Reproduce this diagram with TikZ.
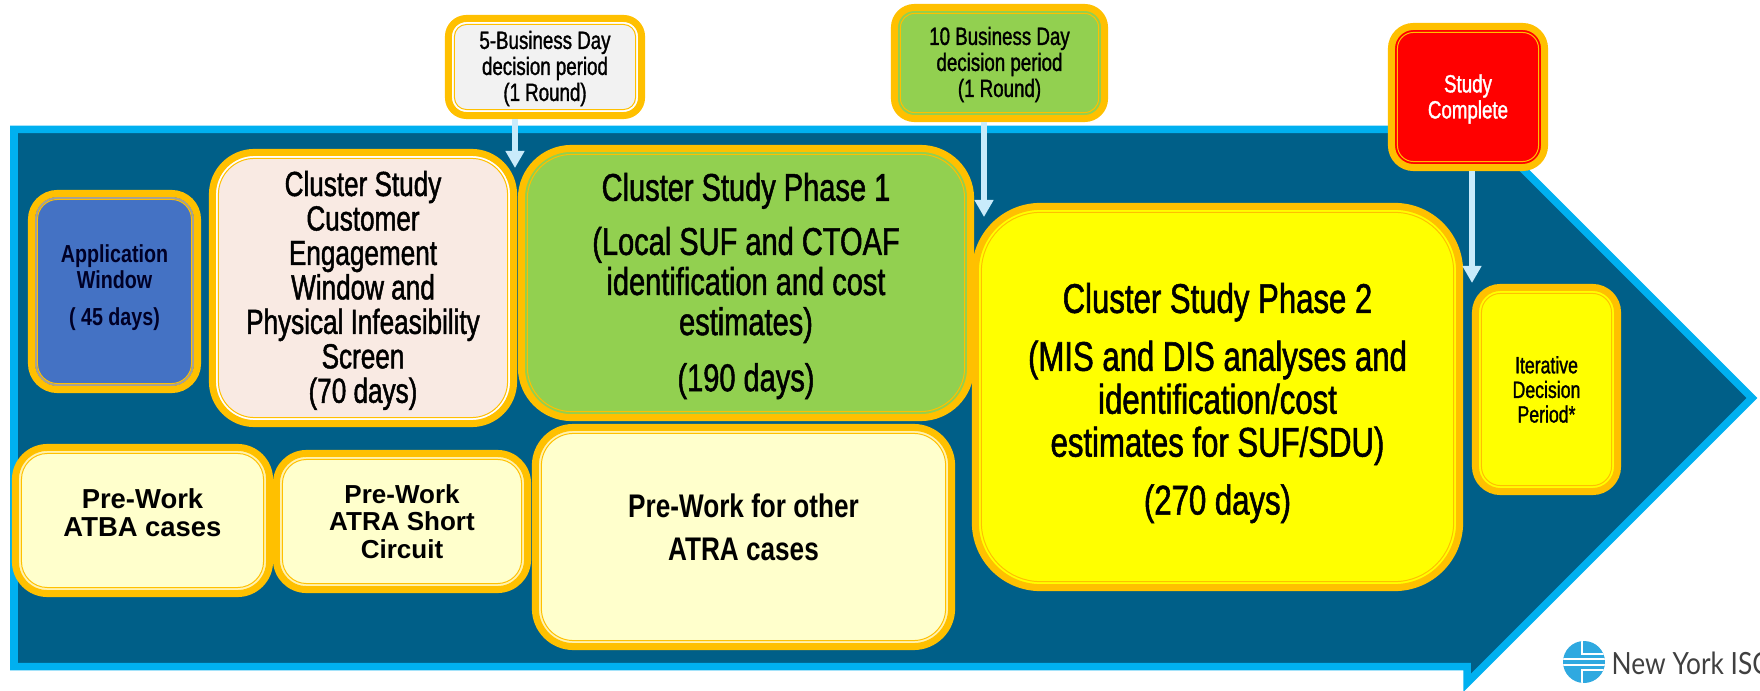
\documentclass[tikz,border=0pt]{standalone}
\usepackage{fontspec}
\setmainfont{Liberation Sans}
\newfontfamily\narrowface[FakeStretch=0.8]{Liberation Sans}
\newfontfamily\heavyface[FakeStretch=0.75,FakeBold=1.3]{Liberation Sans}
\newfontfamily\logoface[FakeStretch=0.86]{Lato}
\usetikzlibrary{arrows.meta}
\definecolor{bodyblue}{HTML}{005F88}
\definecolor{rimblue}{HTML}{00B0F0}
\definecolor{rimgold}{HTML}{FFC000}
\definecolor{tipblue}{HTML}{C9EBFB}
\definecolor{peachfill}{HTML}{F9EAE3}
\definecolor{greenfill}{HTML}{92D050}
\definecolor{creamfill}{HTML}{FFFFCC}
\definecolor{bluefill}{HTML}{4472C4}
\definecolor{greyfill}{HTML}{F2F2F2}
\definecolor{creamgap}{HTML}{FFF2B0}
\definecolor{bluegap}{HTML}{A0A0A0}
\definecolor{logoblue}{HTML}{2FA9E0}
\definecolor{yellowfill}{HTML}{FFFF00}
\definecolor{redfill}{HTML}{FF0000}
\tikzset{
    stagebox/.style n args={3}{draw=rimgold,line width=.07cm,fill=#1,rounded corners=#3,
        inner sep=0pt,align=center,text=black,
        path picture={
            \draw[#2,line width=.02cm,rounded corners=#3-.045cm]
                ([shift={(.045cm,.045cm)}]path picture bounding box.south west) rectangle
                ([shift={(-.045cm,-.045cm)}]path picture bounding box.north east);
            \draw[rimgold,line width=.01cm,rounded corners=#3-.06cm]
                ([shift={(.06cm,.06cm)}]path picture bounding box.south west) rectangle
                ([shift={(-.06cm,-.06cm)}]path picture bounding box.north east);
        }},
    flowarrow/.style={draw=tipblue,line width=.065cm,-{Triangle[length=.17cm,width=.18cm,fill=tipblue]}}
}
\begin{document}
\begin{tikzpicture}[x=.01cm,y=-.01cm]
    \clip (0,0) rectangle (1760,691);
    % big arrow behind everything
    \draw[draw=rimblue,fill=bodyblue,line width=.075cm,line join=miter]
        (14,129.5) -- (1467,129.5) -- (1467,113) -- (1752,398) -- (1467,683) -- (1467,666.5) -- (14,666.5) -- cycle;
    % top row
    \node[stagebox={bluefill}{bluegap}{.26cm},minimum width=1.66cm,minimum height=1.96cm,
        font=\narrowface\bfseries\fontsize{7}{7.4}\selectfont,text=black!85!blue] (appwindow) at (114.5,291.5)
        {Application\\Window\\[.11cm]( 45 days)\\[-.13cm]~};
    \node[stagebox={peachfill}{white}{.42cm},minimum width=3.01cm,minimum height=2.71cm,
        font=\heavyface\fontsize{9.9}{9.8}\selectfont] (screen) at (363,288)
        {\rule{0pt}{.3cm}Cluster Study\\Customer\\Engagement\\Window and\\Physical Infeasibility\\Screen\\(70 days)};
    \node[stagebox={greenfill}{greenfill}{.5cm},minimum width=4.49cm,minimum height=2.69cm,
        font=\heavyface\fontsize{11}{11.4}\selectfont] (phaseone) at (746,283)
        {\rule{0pt}{.34cm}Cluster Study Phase 1\\[.14cm](Local SUF and CTOAF\\identification and cost\\estimates)\\[.16cm](190 days)};
    \node[stagebox={yellowfill}{yellowfill}{.65cm},minimum width=4.84cm,minimum height=3.81cm,
        font=\heavyface\fontsize{11.8}{12.2}\selectfont] (phasetwo) at (1217.5,397)
        {\rule{0pt}{.42cm}Cluster Study Phase 2\\[.15cm](MIS and DIS analyses and\\identification/cost\\estimates for SUF/SDU)\\[.15cm](270 days)};
    \node[stagebox={yellowfill}{yellowfill}{.25cm},minimum width=1.42cm,minimum height=2.04cm,
        font=\heavyface\fontsize{6.7}{7}\selectfont] (iterative) at (1546.5,389.5)
        {Iterative\\Decision\\Period*};
    % bottom row
    \node[stagebox={creamfill}{creamgap}{.32cm},minimum width=2.54cm,minimum height=1.46cm,
        font=\bfseries\fontsize{7.8}{8.2}\selectfont] (atba) at (142.5,520.5)
        {Pre-Work\\ATBA cases\\[-.13cm]~};
    \node[stagebox={creamfill}{creamgap}{.3cm},minimum width=2.51cm,minimum height=1.36cm,
        font=\bfseries\fontsize{7.4}{7.8}\selectfont] (atrashort) at (402,521.5)
        {Pre-Work\\ATRA Short\\Circuit};
    \node[stagebox={creamfill}{creamgap}{.38cm},minimum width=4.16cm,minimum height=2.19cm,
        font=\narrowface\bfseries\fontsize{9.3}{12.2}\selectfont] (otheratra) at (743.5,537)
        {Pre-Work for other\\ATRA cases\\[-.23cm]~};
    % decision boxes above the arrow
    \node[stagebox={greyfill}{white}{.18cm},minimum width=1.93cm,minimum height=.97cm,
        font=\heavyface\fontsize{7.1}{7.4}\selectfont] (dayfive) at (545,67)
        {\rule{0pt}{.21cm}5-Business Day\\decision period\\(1 Round)};
    \node[stagebox={greenfill}{greenfill}{.2cm},minimum width=2.1cm,minimum height=1.11cm,
        font=\heavyface\fontsize{7.1}{7.4}\selectfont] (dayten) at (999.5,63)
        {\rule{0pt}{.21cm}10 Business Day\\decision period\\(1 Round)};
    \node[stagebox={redfill}{redfill}{.22cm},minimum width=1.53cm,minimum height=1.41cm,
        font=\heavyface\fontsize{7.1}{7.4}\selectfont,text=white] (studydone) at (1468,97)
        {\rule{0pt}{.22cm}Study\\Complete};
    % arrows down
    \coordinate (fivetip) at (515,168);
    \coordinate (tentip) at (984,217);
    \coordinate (donetip) at (1472,283);
    \draw[flowarrow] (dayfive.south -| fivetip) -- (fivetip);
    \draw[flowarrow] (dayten.south -| tentip) -- (tentip);
    \draw[flowarrow] (studydone.south -| donetip) -- (donetip);
    % logo
    \fill[logoblue] (1584,662) circle (21);
    \begin{scope}
        \clip (1584,662) circle (21);
        \draw[white,line width=.015cm] (1582,640) -- (1582,654) -- (1606,654);
        \draw[white,line width=.015cm] (1562,659) -- (1606,659);
        \draw[white,line width=.015cm] (1562,665) -- (1606,665);
        \draw[white,line width=.015cm] (1582,684) -- (1582,670) -- (1606,670);
    \end{scope}
    \node[anchor=west,inner sep=0pt,text=black!75,font=\logoface\fontsize{8.7}{9}\selectfont] (logotext) at (1611,663) {New York ISO};
\end{tikzpicture}
\end{document}
